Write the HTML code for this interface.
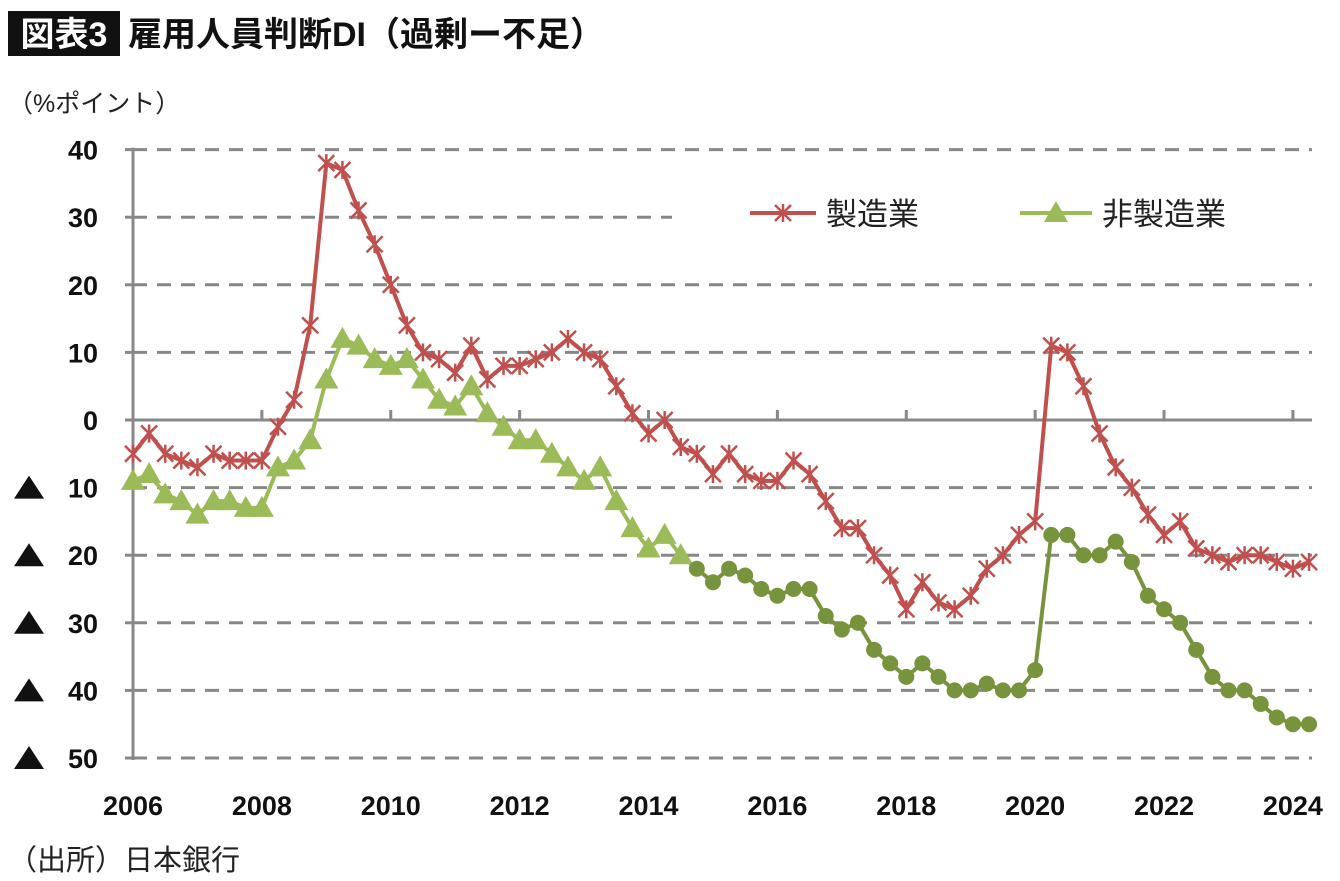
<!DOCTYPE html>
<html><head><meta charset="utf-8"><style>
body{margin:0;background:#fff;width:1340px;height:881px;overflow:hidden;font-family:"Liberation Sans","Noto Sans CJK JP",sans-serif}
svg{position:absolute;left:0;top:0}
</style></head><body>
<svg id="c" width="1340" height="881" xmlns="http://www.w3.org/2000/svg">
<rect x="8" y="11" width="112" height="45" fill="#111"/>
<text x="64" y="46" fill="#fff" font-size="34" font-weight="bold" text-anchor="middle" font-family="Liberation Sans,Noto Sans CJK JP,sans-serif">図表3</text>
<text x="128" y="46" fill="#111" font-size="34" font-weight="bold" font-family="Liberation Sans,Noto Sans CJK JP,sans-serif">雇用人員判断DI（過剰ー不足）</text>
<text x="8" y="112" fill="#222" font-size="25" font-family="Liberation Sans,Noto Sans CJK JP,sans-serif">（%ポイント）</text>
<text x="8" y="870" fill="#222" font-size="29" font-family="Liberation Sans,Noto Sans CJK JP,sans-serif">（出所）日本銀行</text>
<g id="grid"></g><g id="axes"></g><g id="series"></g>
<rect x="672" y="182" width="650" height="64" fill="#fff"/>
<g id="legend"></g>
</svg>
<script>
const years=["2006","2008","2010","2012","2014","2016","2018","2020","2022","2024"];
const yTicks=[40,30,20,10,0,-10,-20,-30,-40,-50];
const manufacturing=[-5,-2,-5,-6,-7,-5,-6,-6,-6,-1,3,14,38,37,31,26,20,14,10,9,7,11,6,8,8,9,10,12,10,9,5,1,-2,0,-4,-5,-8,-5,-8,-9,-9,-6,-8,-12,-16,-16,-20,-23,-28,-24,-27,-28,-26,-22,-20,-17,-15,11,10,5,-2,-7,-10,-14,-17,-15,-19,-20,-21,-20,-20,-21,-22,-21];
const nonManufacturing=[-9,-8,-11,-12,-14,-12,-12,-13,-13,-7,-6,-3,6,12,11,9,8,9,6,3,2,5,1,-1,-3,-3,-5,-7,-9,-7,-12,-16,-19,-17,-20,-22,-24,-22,-23,-25,-26,-25,-25,-29,-31,-30,-34,-36,-38,-36,-38,-40,-40,-39,-40,-40,-37,-17,-17,-20,-20,-18,-21,-26,-28,-30,-34,-38,-40,-40,-42,-44,-45,-45];
const circleStart=35;
const NS="http://www.w3.org/2000/svg";
const X0=133,QW=16.11,Y0=420,UY=6.76;
const xq=i=>X0+i*QW, yv=v=>Y0-v*UY;
function mk(tag,attrs,parent){const e=document.createElementNS(NS,tag);for(const k in attrs)e.setAttribute(k,attrs[k]);parent.appendChild(e);return e;}
const grid=document.getElementById('grid'),axes=document.getElementById('axes'),ser=document.getElementById('series'),leg=document.getElementById('legend');
const FF="Liberation Sans,Noto Sans CJK JP,sans-serif";
yTicks.forEach(t=>{
  const y=yv(t);
  if(t!==0){const g=mk('line',{x1:X0,x2:1312,y1:y,y2:y,stroke:'#888','stroke-width':3,'stroke-dasharray':'14 10'},grid);
  
  }
  const tk=mk('line',{x1:X0-8,x2:X0,y1:y,y2:y,stroke:'#888','stroke-width':3},axes);
  
  
  const tx=mk('text',{x:98,y:y+10,'font-size':27,'font-weight':'bold','text-anchor':'end',fill:'#111','font-family':FF},axes);
  tx.textContent=Math.abs(t);
  
  
  if(t<0){const tr=mk('polygon',{points:`${29},${y-12} ${14},${y+11} ${44},${y+11}`,fill:'#111'},axes);
  
  }
});
const ya=mk('line',{x1:X0,x2:X0,y1:yv(40)-2,y2:yv(-50)+2,stroke:'#888','stroke-width':3},axes);


const xa=mk('line',{x1:X0,x2:1312,y1:Y0,y2:Y0,stroke:'#888','stroke-width':3},axes);


years.forEach((yr,i)=>{
  const x=xq(i*8);
  const tk=mk('line',{x1:x,x2:x,y1:Y0-10,y2:Y0,stroke:'#888','stroke-width':3},axes);
  
  
  const tx=mk('text',{x:x,y:815,'font-size':27,'font-weight':'bold','text-anchor':'middle',fill:'#111','font-family':FF},axes);
  tx.textContent=yr;
  
  
});
function star(x,y,c,p){const g=mk('g',{stroke:c,'stroke-width':2.5},p);
 mk('line',{x1:x-8,y1:y-8,x2:x+8,y2:y+8},g);mk('line',{x1:x-8,y1:y+8,x2:x+8,y2:y-8},g);mk('line',{x1:x,y1:y-9,x2:x,y2:y+9},g);return g;}
function tri(x,y,c,p){return mk('polygon',{points:`${x},${y-12} ${x-12},${y+9} ${x+12},${y+9}`,fill:c},p);}
const gn1=nonManufacturing.slice(0,circleStart+1).map((v,i)=>xq(i)+','+yv(v)).join(' ');
const gn2=nonManufacturing.slice(circleStart).map((v,i)=>xq(i+circleStart)+','+yv(v)).join(' ');
const l1=mk('polyline',{points:gn1,fill:'none',stroke:'#9bbb59','stroke-width':4},ser);


const l2=mk('polyline',{points:gn2,fill:'none',stroke:'#77933c','stroke-width':4},ser);


nonManufacturing.forEach((v,i)=>{
  const m=i<circleStart?tri(xq(i),yv(v),'#9bbb59',ser):mk('circle',{cx:xq(i),cy:yv(v),r:8,fill:'#77933c'},ser);
  
  
});
const lm=mk('polyline',{points:manufacturing.map((v,i)=>xq(i)+','+yv(v)).join(' '),fill:'none',stroke:'#c0504d','stroke-width':4},ser);


manufacturing.forEach((v,i)=>{const m=star(xq(i),yv(v),'#c0504d',ser);
  
  });
const le1=mk('g',{},leg);


mk('line',{x1:750,x2:816,y1:213,y2:213,stroke:'#c0504d','stroke-width':4},le1);star(783,213,'#c0504d',le1);
const t1=mk('text',{x:826,y:225,'font-size':31,fill:'#222','font-family':FF},le1);t1.textContent='製造業';
const le2=mk('g',{},leg);


mk('line',{x1:1020,x2:1092,y1:213,y2:213,stroke:'#9bbb59','stroke-width':4},le2);tri(1056,213,'#9bbb59',le2);
const t2=mk('text',{x:1102,y:225,'font-size':31,fill:'#222','font-family':FF},le2);t2.textContent='非製造業';
</script>
</body></html>
